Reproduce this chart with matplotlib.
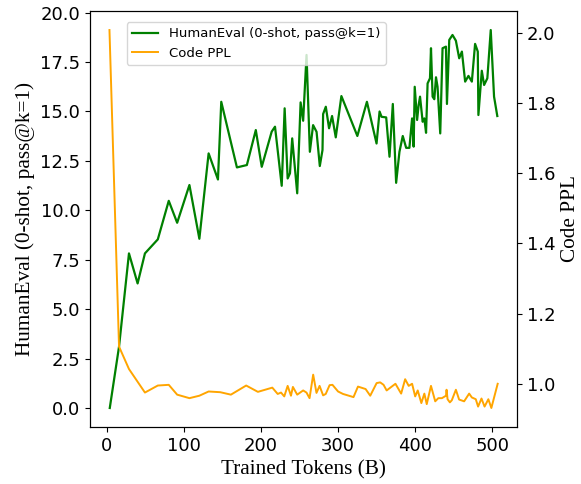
import matplotlib
matplotlib.use('Agg')
import matplotlib.pyplot as plt

# HumanEval (0-shot) vs trained tokens
he_tokens = [3.9, 15.9, 28.8, 40, 49.5, 66.2, 80.4, 91.3, 107.2, 120.1, 132.1, 144.2, 148.5,
             168.8, 181.7, 193.3, 201, 213.9, 218.2, 226.9, 230.7, 234.6, 237.6, 240.5, 247,
             251.4, 254.7, 259.1, 263.4, 267.6, 272.1, 276.3, 279.8, 280.6, 284.1, 288.3,
             292.2, 297, 304.3, 325, 337.4, 349.9, 353.8, 356.4, 362.4, 366.7, 371, 375.3,
             379.6, 383.9, 388.3, 392.5, 396, 398, 399.4, 402.5, 404.5, 406.3, 409.7, 411.9,
             414.1, 416.1, 419.2, 420.5, 422.6, 424.8, 427, 429, 432.5, 435.5, 439.9, 441.2,
             444.2, 448.4, 452.8, 457.1, 460.6, 464.8, 469.1, 473.5, 477.7, 481.2, 482,
             486.4, 489.4, 493.6, 498, 502.3, 506.5]
humaneval = [0.0, 3.1, 7.82, 6.3, 7.82, 8.53, 10.48, 9.37, 11.28, 8.56, 12.88, 11.56, 15.49,
             12.17, 12.29, 14.06, 12.2, 13.98, 14.23, 11.24, 15.16, 11.61, 11.87, 13.64, 10.86,
             15.46, 14.53, 17.86, 12.96, 14.31, 13.97, 12.24, 13.05, 14.87, 15.24, 14.15,
             14.77, 13.69, 15.78, 13.76, 15.49, 13.38, 15.0, 14.73, 14.7, 12.71, 15.38, 11.39,
             12.96, 13.76, 13.16, 13.16, 14.65, 13.22, 16.25, 14.57, 15.33, 15.75, 14.48, 14.65,
             13.92, 16.42, 16.68, 18.2, 15.75, 15.62, 16.73, 16.25, 13.89, 18.2, 18.28, 15.38,
             18.62, 18.87, 18.58, 17.69, 18.03, 16.51, 16.8, 16.51, 18.42, 18.03, 14.82,
             17.06, 16.34, 16.68, 19.12, 15.75, 14.77]

# Code PPL vs trained tokens
ppl_tokens = [3.5, 15.9, 28.8, 49.5, 66.2, 80.4, 91.3, 107.2, 120.1, 132.1, 147.2, 161, 180.8,
              196, 214.7, 221.7, 226, 230.2, 234.6, 238.9, 241.4, 247, 254.7, 259, 263, 267.7,
              272, 276, 280.6, 284, 289, 292.7, 300, 306.4, 320, 325.8, 335.7, 341.7, 350,
              354.6, 359, 363, 374.4, 381.8, 387, 391.6, 396, 400, 403.3, 408, 411.9, 415,
              420.5, 426, 430, 434.7, 440, 440.7, 442, 445, 447.5, 452.8, 457, 463.5, 470,
              473.5, 478.6, 481.6, 486, 490, 494.9, 498.8, 507]
code_ppl = [2.008, 1.106, 1.042, 0.975, 0.995, 0.997, 0.969, 0.959, 0.966, 0.978, 0.976, 0.969,
            0.995, 0.977, 0.989, 0.971, 0.975, 0.964, 0.994, 0.966, 0.991, 0.969, 0.981, 0.975,
            0.959, 1.026, 0.974, 0.994, 0.967, 0.971, 0.996, 0.997, 0.978, 0.971, 0.962, 0.992,
            0.985, 0.966, 1.002, 1.004, 0.997, 0.981, 1.0, 0.972, 1.013, 0.994, 1.0, 0.964,
            0.981, 0.945, 0.972, 0.942, 0.994, 0.95, 0.959, 0.959, 0.966, 0.983, 0.956, 0.947,
            0.953, 0.983, 0.955, 0.95, 0.972, 0.961, 0.956, 0.935, 0.958, 0.935, 0.956, 0.931,
            1.0]

serif = ['Liberation Serif', 'DejaVu Serif']

fig, ax1 = plt.subplots(figsize=(5.81, 4.84), dpi=100)
fig.subplots_adjust(left=0.155, right=0.89, top=0.977, bottom=0.118)
ax2 = ax1.twinx()

l1, = ax1.plot(he_tokens, humaneval, color='green', lw=1.6, label='HumanEval (0-shot, pass@k=1)')
l2, = ax2.plot(ppl_tokens, code_ppl, color='orange', lw=1.4, label='Code PPL')

ax1.set_xlabel('Trained Tokens (B)', family=serif, fontsize=15.3)
ax1.set_ylabel('HumanEval (0-shot, pass@k=1)', family=serif, fontsize=15.3)
ax2.set_ylabel('Code PPL', family=serif, fontsize=15.3)

ax1.tick_params(labelsize=13)
ax2.tick_params(labelsize=13)

ax2.legend(handles=[l1, l2], loc='upper left', bbox_to_anchor=(0.086, 0.974),
           borderaxespad=0, fontsize=9.5)

plt.savefig('out.png')
